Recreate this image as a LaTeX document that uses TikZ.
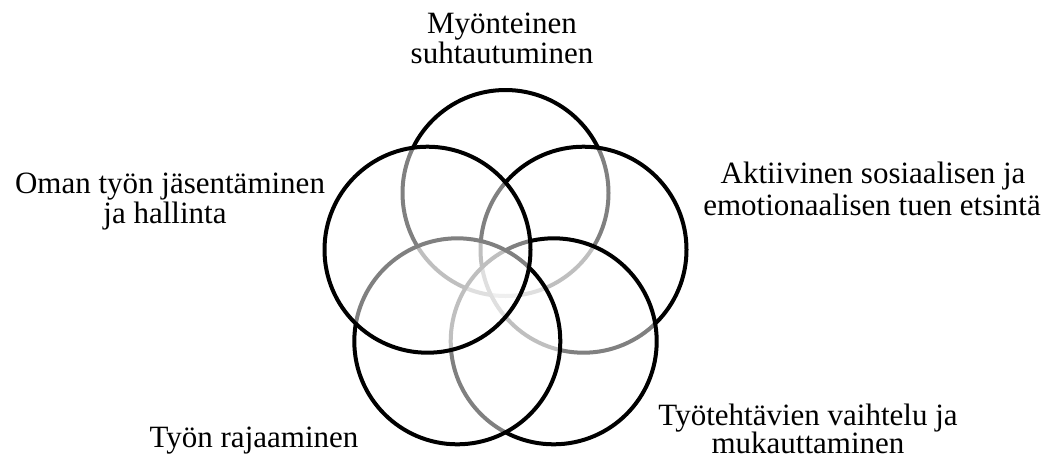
\documentclass[tikz,border=0pt]{standalone}
\usepackage{fontspec}
\setmainfont{Liberation Serif}
\begin{document}
\begin{tikzpicture}[x=1pt,y=-1pt,
  ring/.style={draw=black,line width=4pt,fill=white,fill opacity=0.5},
  lbl/.style={anchor=base,inner sep=0pt,font=\fontsize{31}{36}\selectfont}]
\useasboundingbox (0,0) rectangle (1048,459);
\def\rr{103}
\coordinate (ct) at (505.5,193);
\coordinate (cr) at (583.5,249.7);
\coordinate (cbr) at (553.7,341.3);
\coordinate (cbl) at (457.3,341.3);
\coordinate (cl) at (427.5,249.7);
\draw[ring] (ct) circle[radius=\rr];
\draw[ring] (cr) circle[radius=\rr];
\draw[ring] (cbr) circle[radius=\rr];
\draw[ring] (cbl) circle[radius=\rr];
\draw[ring] (cl) circle[radius=\rr];
\node[lbl] (t1) at (502,33) {Myönteinen};
\node[lbl] (t2) at (502,63) {suhtautuminen};
\node[lbl] (r1) at (873,183) {Aktiivinen sosiaalisen ja};
\node[lbl] (r2) at (872,215) {emotionaalisen tuen etsintä};
\node[lbl] (l1) at (170,193) {Oman työn jäsentäminen};
\node[lbl] (l2) at (165,223) {ja hallinta};
\node[lbl] (b1) at (808,425) {Työtehtävien vaihtelu ja};
\node[lbl] (b2) at (808,453) {mukauttaminen};
\node[lbl] (bl) at (254,447) {Työn rajaaminen};
\end{tikzpicture}
\end{document}
